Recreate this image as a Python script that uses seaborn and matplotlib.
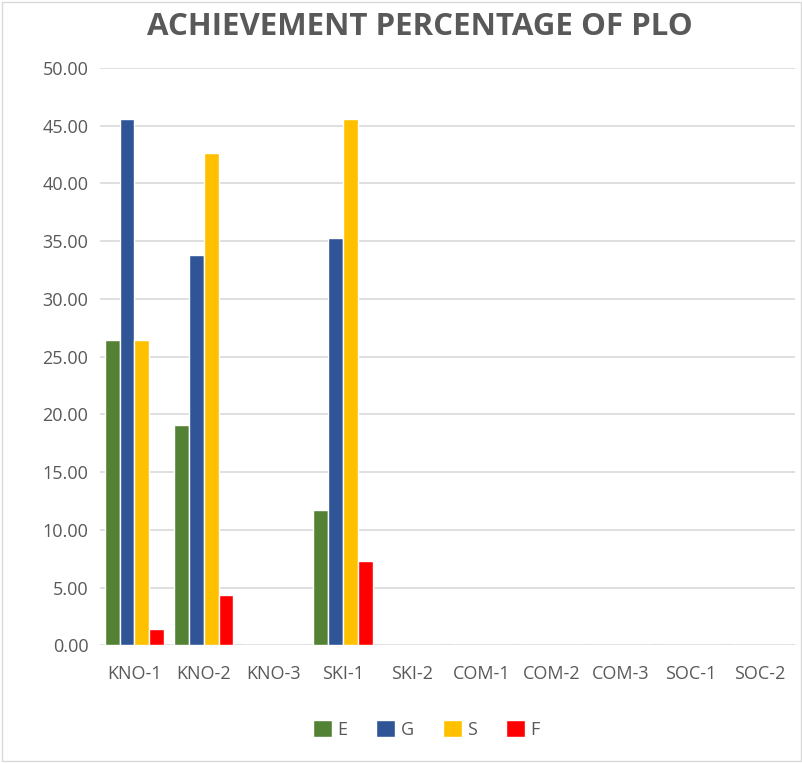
import numpy as np
import pandas as pd
import matplotlib
matplotlib.use("Agg")
import matplotlib.pyplot as plt
import seaborn as sns

# PLO categories and achievement percentages per grade
categories = ["KNO-1", "KNO-2", "KNO-3", "SKI-1", "SKI-2",
              "COM-1", "COM-2", "COM-3", "SOC-1", "SOC-2"]
grades = ["E", "G", "S", "F"]
e_vals = [26.47, 19.12, 0, 11.76, 0, 0, 0, 0, 0, 0]
g_vals = [45.59, 33.82, 0, 35.29, 0, 0, 0, 0, 0, 0]
s_vals = [26.47, 42.65, 0, 45.59, 0, 0, 0, 0, 0, 0]
f_vals = [1.47, 4.41, 0, 7.35, 0, 0, 0, 0, 0, 0]
colors = ["#548235", "#2F5597", "#FFC000", "#FF0000"]

# Long-format table for seaborn
rows = []
for g, vals in zip(grades, [e_vals, g_vals, s_vals, f_vals]):
    for c, v in zip(categories, vals):
        rows.append({"PLO": c, "Grade": g, "Value": v})
df = pd.DataFrame(rows)

sns.set_style("white")
plt.rcParams['font.family'] = ['Open Sans', 'DejaVu Sans']

fig = plt.figure(figsize=(8.03, 7.63), dpi=100)
ax = fig.add_axes([0.124, 0.154, 0.866, 0.757])

sns.barplot(data=df, x="PLO", y="Value", hue="Grade", hue_order=grades,
            order=categories, palette=colors, width=0.85, saturation=1,
            ax=ax, zorder=3)

ax.set_ylim(0, 50)
ax.set_yticks(np.arange(0, 51, 5))
ax.set_yticklabels([f"{t:.2f}" for t in np.arange(0, 51, 5)])
ax.yaxis.grid(True, color="#D9D9D9", linewidth=1.2, zorder=0)
ax.set_axisbelow(True)
for s in ax.spines.values():
    s.set_visible(False)
ax.tick_params(axis="both", length=0, labelsize=13, colors="#595959")
ax.tick_params(axis="y", pad=8)
ax.tick_params(axis="x", pad=14)
ax.set_xlabel("")
ax.set_ylabel("")

fig.text(0.523, 0.965, "ACHIEVEMENT PERCENTAGE OF PLO", ha="center",
         va="center", fontsize=22.5, fontweight="bold", color="#595959")

ax.legend(loc="center", bbox_to_anchor=(0.47, -0.145), ncol=4,
          frameon=False, fontsize=13, labelcolor="#595959",
          handlelength=1.05, handleheight=1.05, columnspacing=1.6,
          handletextpad=0.3)

# Light chart-area border
fig.patches.append(plt.Rectangle((0.003, 0.003), 0.994, 0.994,
                                 transform=fig.transFigure, fill=False,
                                 edgecolor="#D9D9D9", linewidth=1))

fig.savefig("out.png", dpi=100)
